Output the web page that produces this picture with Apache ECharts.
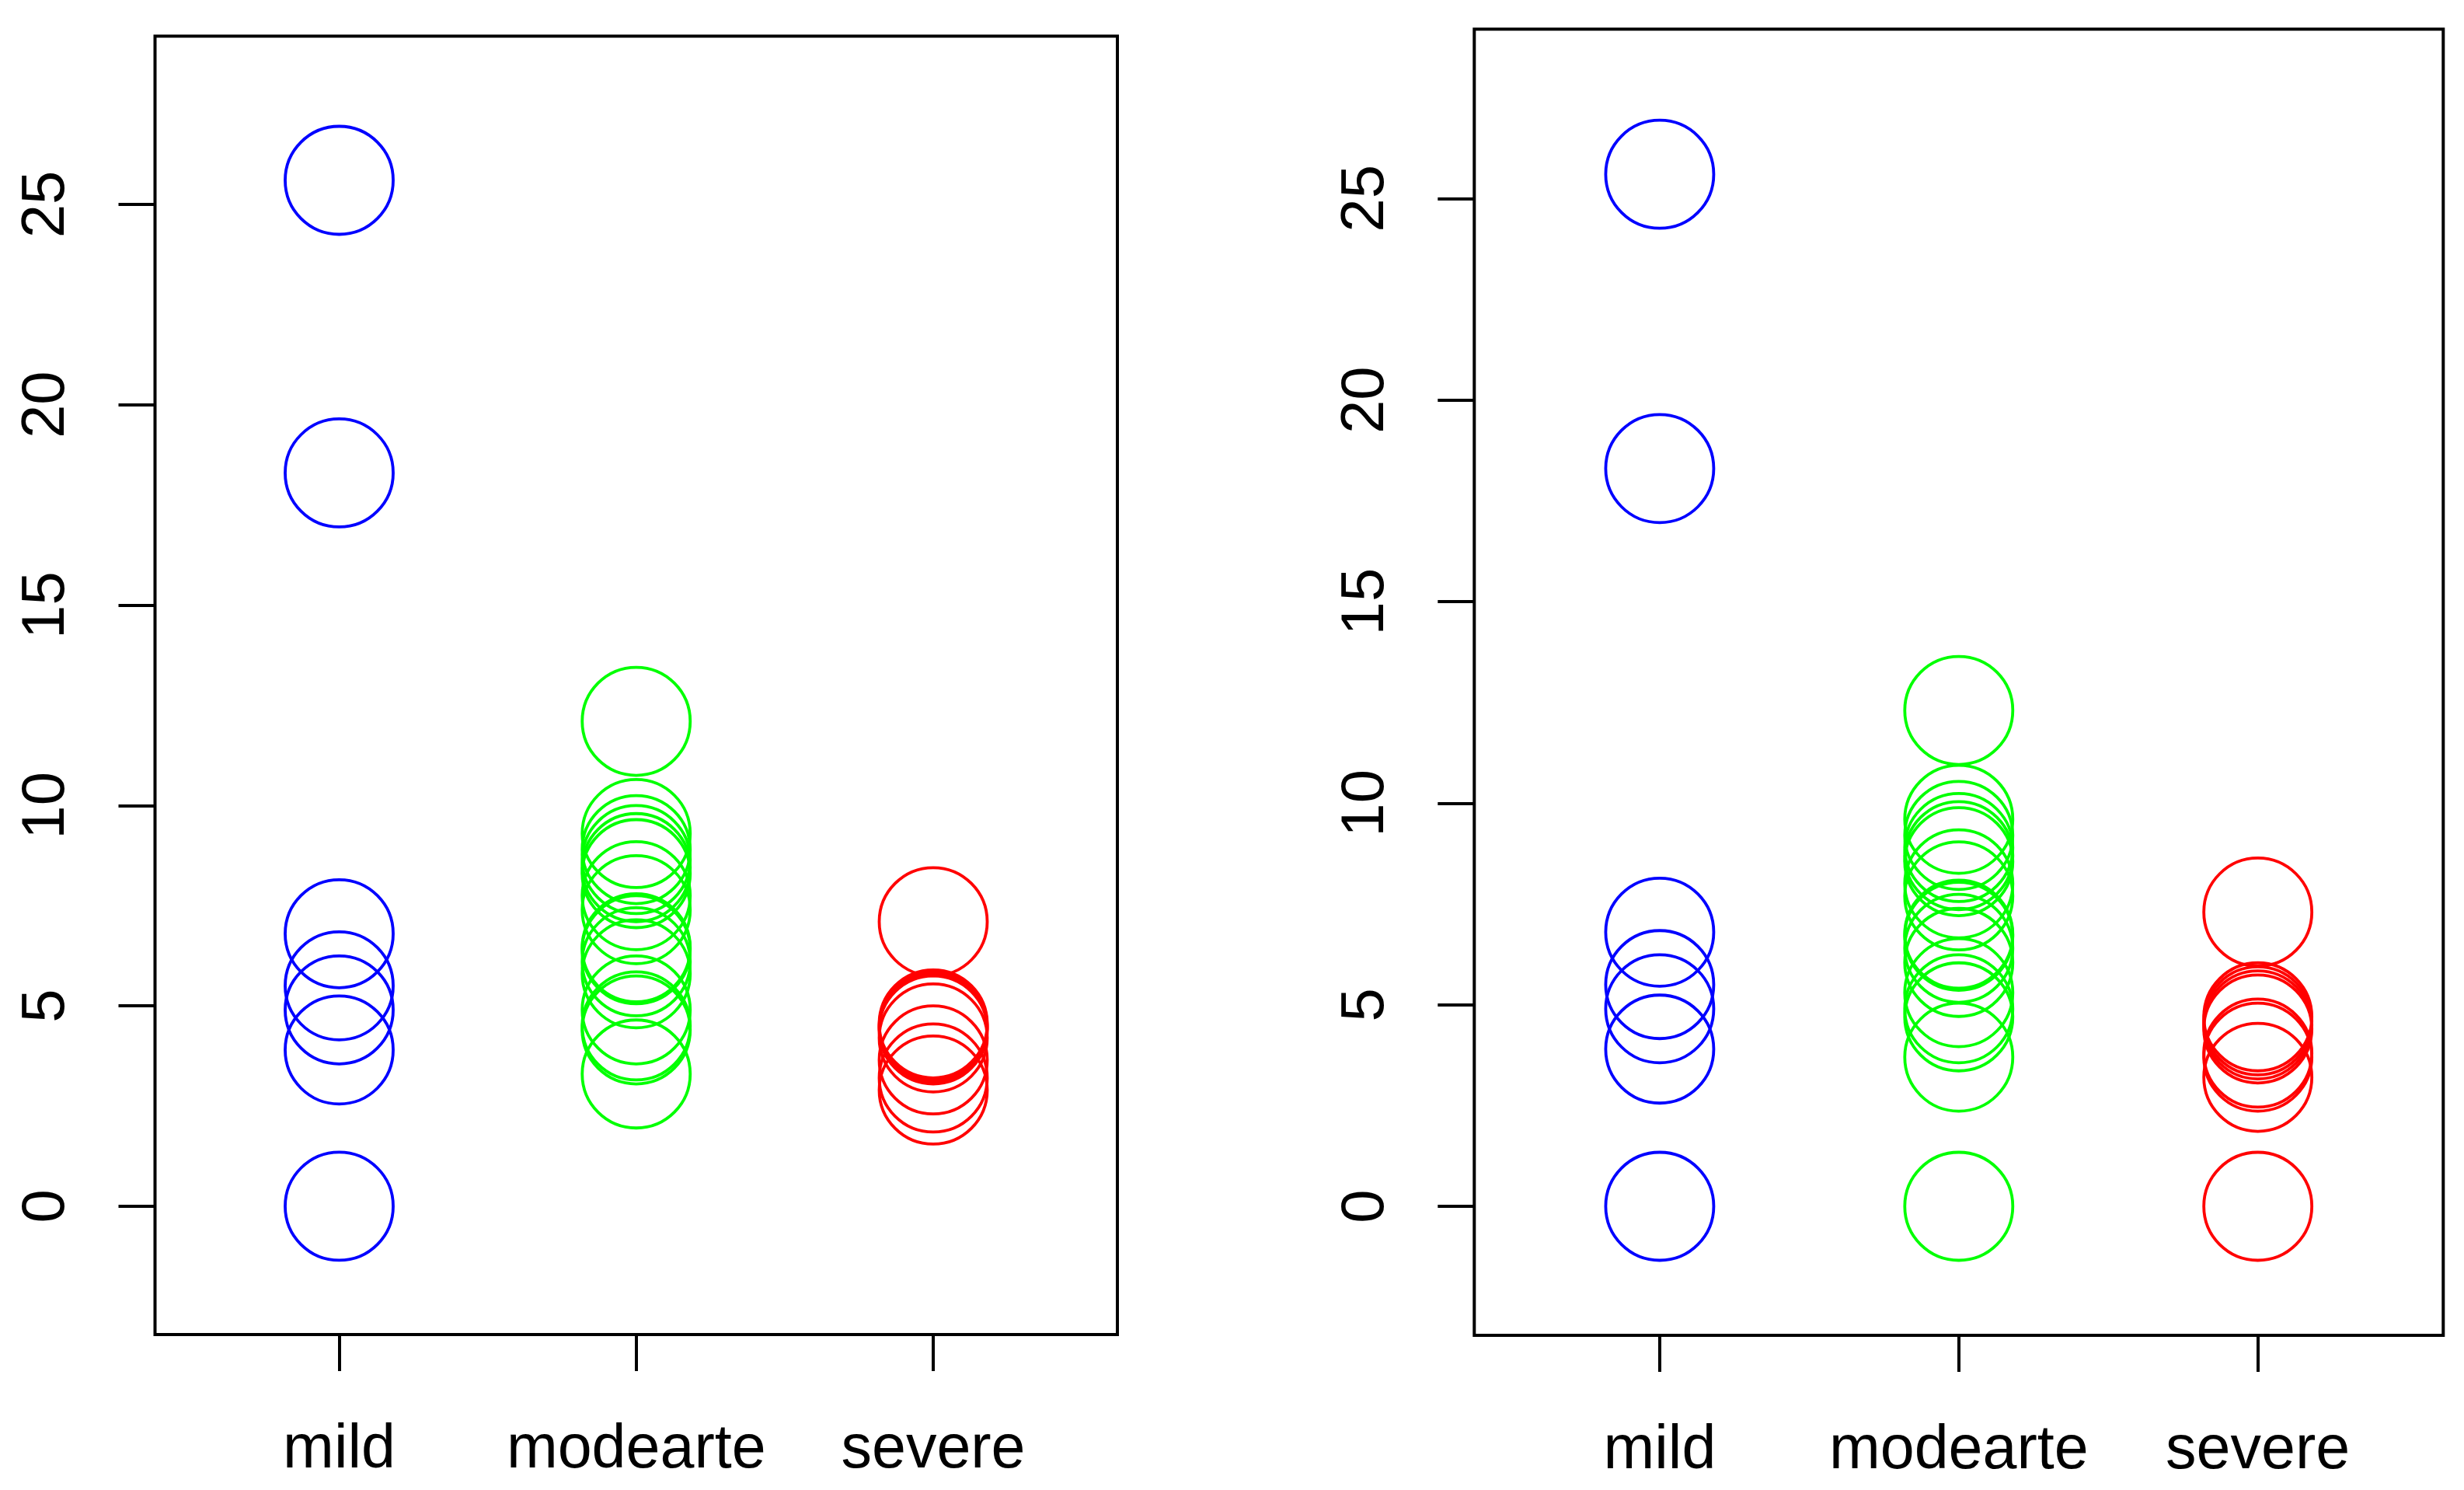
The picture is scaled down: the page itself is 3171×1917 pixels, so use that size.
<!DOCTYPE html>
<html>
<head>
<meta charset="utf-8">
<script src="https://cdn.jsdelivr.net/npm/echarts@6/dist/echarts.min.js"></script>
<style>
html,body{margin:0;padding:0;background:#fff;}
#chart{width:3171px;height:1917px;}
</style>
</head>
<body>
<div id="chart"></div>
<script>
// ---- data ----
const categories = ['mild', 'modearte', 'severe'];
const yTicks = [0, 5, 10, 15, 20, 25];

const leftMild = [25.6, 18.3, 6.8, 5.5, 4.9, 3.9, 0];
const leftModerate = [12.1, 9.3, 8.9, 8.65, 8.45, 8.3, 7.75, 7.4, 6.45, 6.4, 6.1, 5.8, 4.9, 4.5, 4.4, 3.3];
const leftSevere = [7.1, 4.55, 4.5, 4.45, 4.4, 4.2, 3.65, 3.2, 2.9];

const rightMild = [25.6, 18.3, 6.8, 5.5, 4.9, 3.9, 0];
const rightModerate = [12.3, 9.6, 9.2, 8.9, 8.7, 8.55, 8.0, 7.7, 6.75, 6.7, 6.4, 6.05, 5.3, 4.9, 4.7, 3.7, 0];
const rightSevere = [7.3, 4.7, 4.6, 4.5, 4.4, 3.8, 3.7, 3.2, 0];

const colors = ['#0000FF', '#00FF00', '#FF0000'];

// ---- build ----
const FONT = '"Liberation Sans", Arial, Helvetica, sans-serif';
function pts(idx, arr) { return arr.map(v => [idx + 1, v]); }

const panels = [
  { grid: { left: 199.5, width: 1238.5, top: 46.4, height: 1670.5 }, groups: [leftMild, leftModerate, leftSevere] },
  { grid: { left: 1897.3, width: 1247, top: 37.5, height: 1680.5 }, groups: [rightMild, rightModerate, rightSevere] }
];

const grids = [], xAxes = [], yAxes = [], series = [];
panels.forEach((p, pi) => {
  grids.push(Object.assign({ show: true, borderColor: '#000', borderWidth: 4, backgroundColor: 'transparent', containLabel: false }, p.grid));
  xAxes.push({
    type: 'value', gridIndex: pi, min: 0.38, max: 3.62, position: 'bottom',
    axisLine: { show: false, onZero: false },
    splitLine: { show: false },
    axisTick: { show: true, length: 47, inside: false, customValues: [1, 2, 3], lineStyle: { color: '#000', width: 4 } },
    axisLabel: {
      show: true, customValues: [1, 2, 3], margin: 110,
      formatter: v => categories[Math.round(v) - 1] || '',
      fontFamily: FONT, fontSize: 79, color: '#000'
    }
  });
  yAxes.push({
    type: 'value', gridIndex: pi, min: -3.2, max: 29.2, position: 'left',
    axisLine: { show: false, onZero: false },
    splitLine: { show: false },
    axisTick: { show: true, length: 47, inside: false, customValues: yTicks, lineStyle: { color: '#000', width: 4 } },
    axisLabel: {
      show: true, customValues: yTicks, margin: 100, rotate: 90,
      fontFamily: FONT, fontSize: 78, color: '#000'
    }
  });
  p.groups.forEach((arr, gi) => {
    series.push({
      type: 'scatter', xAxisIndex: pi, yAxisIndex: pi,
      data: pts(gi, arr),
      symbol: 'circle', symbolSize: 139,
      itemStyle: { color: 'rgba(0,0,0,0)', borderColor: colors[gi], borderWidth: 3.8, opacity: 1 },
      emphasis: { disabled: true },
      clip: false, silent: true, animation: false
    });
  });
});

const chart = echarts.init(document.getElementById('chart'), null, { renderer: 'canvas' });
chart.setOption({
  backgroundColor: '#fff',
  animation: false,
  grid: grids, xAxis: xAxes, yAxis: yAxes, series: series
});
</script>
</body>
</html>
